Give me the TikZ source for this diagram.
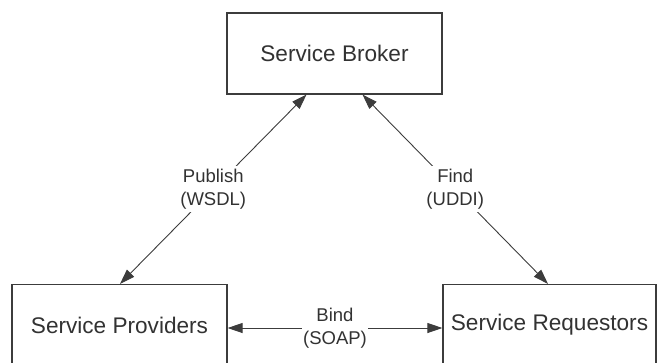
\documentclass[tikz,border=0pt]{standalone}
\usepackage{fontspec}
\setmainfont{Liberation Sans}
\usetikzlibrary{arrows.meta,calc}
\definecolor{ink}{RGB}{60,60,60}
\definecolor{txt}{RGB}{50,50,50}
\begin{document}
\begin{tikzpicture}[x=1pt,y=1pt,
  box/.style={draw=ink,line width=1.2pt,fill=white,minimum width=215pt,minimum height=81pt,inner sep=0pt,
    font=\fontsize{22.6}{27}\selectfont,text=txt},
  lbl/.style={fill=white,align=center,inner xsep=1pt,inner ysep=3pt,
    font=\fontsize{18.5}{23}\selectfont,text=txt},
  conn/.style={draw=ink,line width=0.9pt,{Triangle[length=15pt,width=10pt]}-{Triangle[length=15pt,width=10pt]}}]
\useasboundingbox (0,0) rectangle (658,-362);
\node[box] (broker) at (334.5,-53.5) {Service Broker};
\node[box] (prov) at (119.5,-325) {Service Providers};
\node[box,minimum width=213pt] (req) at (549.5,-325) {Service Requestors};
\draw[conn] ([xshift=-28pt]broker.south) -- node[lbl] (pub) {Publish\\(WSDL)} ([xshift=0.5pt]prov.north);
\draw[conn] ([xshift=28pt]broker.south) -- node[lbl] (find) {Find\\(UDDI)} ([xshift=-1.5pt]req.north);
\draw[conn] ([yshift=-3pt]prov.east) -- node[lbl] (bind) {Bind\\(SOAP)} ([yshift=-3pt]req.west);
\end{tikzpicture}
\end{document}
